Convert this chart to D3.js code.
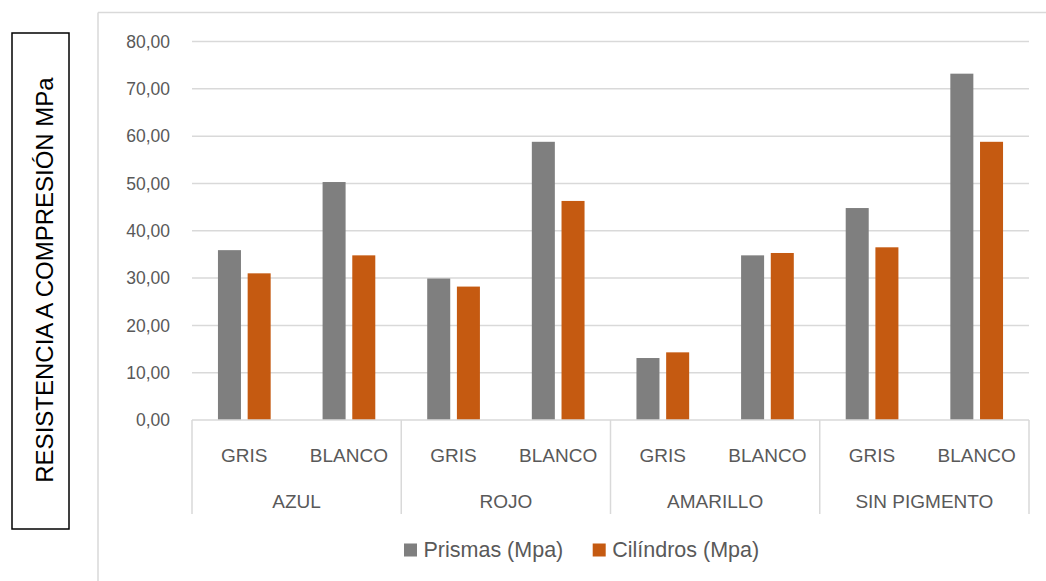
<!DOCTYPE html>
<html>
<head>
<meta charset="utf-8">
<script src="https://cdn.jsdelivr.net/npm/d3@7"></script>
<style>
  html, body { margin: 0; padding: 0; background: #fff; }
  svg { display: block; font-family: "Liberation Sans", Arial, sans-serif; }
</style>
</head>
<body>
<svg id="chart" width="1046" height="581"></svg>
<script>
// Compressive strength by pigment and cement colour
const groups = ["AZUL", "ROJO", "AMARILLO", "SIN PIGMENTO"];
const subgroups = ["GRIS", "BLANCO"];
const seriesNames = ["Prismas (Mpa)", "Cilíndros (Mpa)"];
const prismas = [35.9, 50.3, 29.9, 58.8, 13.1, 34.8, 44.8, 73.2];
const cilindros = [31.0, 34.8, 28.2, 46.3, 14.3, 35.3, 36.5, 58.8];
const yTicks = [0, 10, 20, 30, 40, 50, 60, 70, 80];
const yTitle = "RESISTENCIA A COMPRESIÓN MPa";

const colors = ["#7f7f7f", "#c55a11"];
const textColor = "#595959";
const gridColor = "#d9d9d9";

const svg = d3.select("#chart");

// plot area
const plotLeft = 192, plotRight = 1029, plotTop = 41.5, plotBottom = 420;

// one slot per group/subgroup pair
const slots = [];
groups.forEach((g, gi) => subgroups.forEach((s, si) => slots.push({
  key: g + "|" + s, group: g, sub: s, idx: gi * subgroups.length + si
})));

const x0 = d3.scaleBand().domain(slots.map(d => d.key)).range([plotLeft, plotRight]).paddingInner(0).paddingOuter(0);
const x1 = d3.scaleBand().domain(seriesNames).range([0, x0.bandwidth()]).paddingInner(0.225).paddingOuter(0.874);
const xg = d3.scaleBand().domain(groups).range([plotLeft, plotRight]);
const y = d3.scaleLinear().domain([0, 80]).range([plotBottom, plotTop]);

const fmt = d3.formatLocale({ decimal: ",", thousands: ".", grouping: [3], currency: ["", ""] }).format(".2f");

// chart frame
svg.append("line").attr("x1", 98).attr("x2", 98).attr("y1", 12.5).attr("y2", 581)
  .attr("stroke", gridColor).attr("stroke-width", 1.5);
svg.append("line").attr("x1", 98).attr("x2", 1046).attr("y1", 12.5).attr("y2", 12.5)
  .attr("stroke", gridColor).attr("stroke-width", 1.5);

// horizontal gridlines
svg.append("g").selectAll("line").data(yTicks.filter(t => t > 0)).join("line")
  .attr("x1", plotLeft).attr("x2", plotRight)
  .attr("y1", d => y(d)).attr("y2", d => y(d))
  .attr("stroke", gridColor).attr("stroke-width", 1.5);

// y tick labels
svg.append("g").selectAll("text").data(yTicks).join("text")
  .attr("x", 170).attr("y", d => y(d)).attr("dy", "0.36em")
  .attr("text-anchor", "end").attr("fill", textColor).attr("font-size", 17.5)
  .text(d => fmt(d));

// bars
const seriesData = [prismas, cilindros];
seriesData.forEach((vals, si) => {
  svg.append("g").selectAll("rect").data(slots).join("rect")
    .attr("x", d => x0(d.key) + x1(seriesNames[si]))
    .attr("width", x1.bandwidth())
    .attr("y", d => y(vals[d.idx]))
    .attr("height", d => y(0) - y(vals[d.idx]))
    .attr("fill", colors[si]);
});

// category axis line
svg.append("line").attr("x1", plotLeft).attr("x2", plotRight).attr("y1", plotBottom).attr("y2", plotBottom)
  .attr("stroke", gridColor).attr("stroke-width", 1.5);

// group separators
const sepX = groups.map(g => xg(g)).concat([plotRight]);
svg.append("g").selectAll("line").data(sepX).join("line")
  .attr("x1", d => d).attr("x2", d => d).attr("y1", plotBottom).attr("y2", 514)
  .attr("stroke", gridColor).attr("stroke-width", 1.5);

// subgroup labels
svg.append("g").selectAll("text").data(slots).join("text")
  .attr("x", d => x0(d.key) + x0.bandwidth() / 2).attr("y", 461.5)
  .attr("text-anchor", "middle").attr("fill", textColor).attr("font-size", 19)
  .text(d => d.sub);

// group labels
svg.append("g").selectAll("text").data(groups).join("text")
  .attr("x", d => xg(d) + xg.bandwidth() / 2).attr("y", 508)
  .attr("text-anchor", "middle").attr("fill", textColor).attr("font-size", 19)
  .text(d => d);

// legend
const legendX = [404, 592.7];
const legend = svg.append("g").selectAll("g").data(seriesNames).join("g")
  .attr("transform", (d, i) => `translate(${legendX[i]},0)`);
legend.append("rect").attr("x", 0).attr("y", 543.5).attr("width", 13).attr("height", 13)
  .attr("fill", (d, i) => colors[i]);
legend.append("text").attr("x", 19.5).attr("y", 557).attr("fill", textColor)
  .attr("font-size", 21.5).text(d => d);

// y-axis title in a framed box
svg.append("rect").attr("x", 12).attr("y", 33).attr("width", 57).attr("height", 496)
  .attr("fill", "#fff").attr("stroke", "#000").attr("stroke-width", 1.5);
svg.append("text")
  .attr("transform", "translate(52.5,280) rotate(-90)")
  .attr("text-anchor", "middle").attr("fill", "#000").attr("font-size", 24)
  .text(yTitle);
</script>
</body>
</html>
